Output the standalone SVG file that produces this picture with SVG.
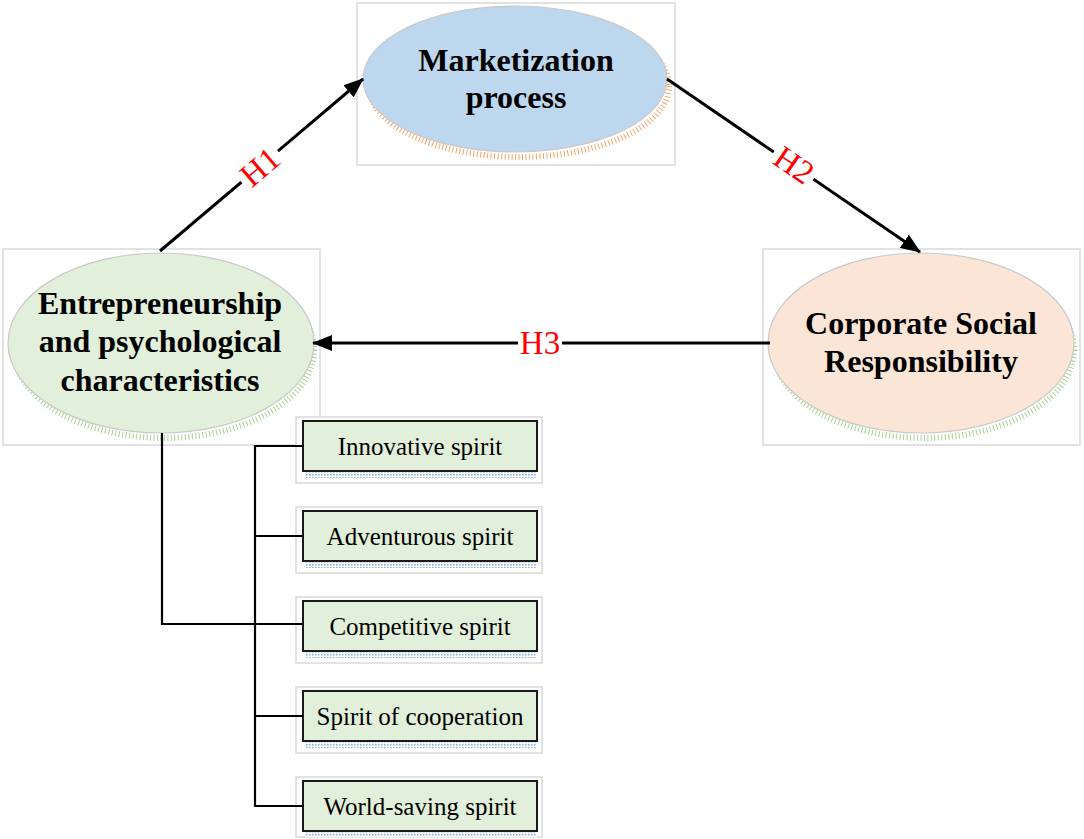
<svg xmlns="http://www.w3.org/2000/svg" width="1084" height="839" viewBox="0 0 1084 839">
<style>
.frame{fill:#fff;stroke:#d9d9d9;stroke-width:1.5}
.ell{stroke:#c9c9c9;stroke-width:1.2}
.big{font-family:"Liberation Serif","Times New Roman",serif;font-weight:bold;font-size:32px;fill:#000;text-anchor:middle}
.small{font-family:"Liberation Serif","Times New Roman",serif;font-size:25px;fill:#000;text-anchor:middle}
.hl{font-family:"Liberation Serif","Times New Roman",serif;font-size:33px;fill:#ff0000;text-anchor:middle}
.box{fill:#e2efda;stroke:#1a1a1a;stroke-width:2}
.conn{fill:none;stroke:#000;stroke-width:2.2}
.arrow{fill:none;stroke:#000;stroke-width:3;marker-end:url(#ah)}
.dotsO{fill:none;stroke:#f4a46a;stroke-width:6;stroke-dasharray:1 2.5}
.dotsG{fill:none;stroke:#a9d18e;stroke-width:6;stroke-dasharray:1 2.5}
</style>
<defs>
<marker id="ah" viewBox="0 0 20 16" refX="19" refY="8" markerWidth="20" markerHeight="16" markerUnits="userSpaceOnUse" orient="auto">
<path d="M0,0 L20,8 L0,16 z" fill="#000"/>
</marker>
<pattern id="bdots" width="3" height="3" patternUnits="userSpaceOnUse">
<rect width="3" height="3" fill="#fff"/>
<rect x="0" y="0" width="1.6" height="1.6" fill="#8db4e2"/>
</pattern>
</defs>
<rect width="1084" height="839" fill="#fff"/>

<g id="marketization">
<rect class="frame" x="357" y="3" width="318" height="162"/>
<ellipse class="dotsO" cx="519" cy="86" rx="150" ry="71"/>
<ellipse class="ell" cx="515" cy="79" rx="152" ry="73" fill="#bdd7ee"/>
<text class="big" x="516" y="71">Marketization</text>
<text class="big" x="516" y="108">process</text>
</g>

<g id="entrepreneurship">
<rect class="frame" x="3" y="249" width="317" height="196"/>
<ellipse class="dotsG" cx="164" cy="350" rx="150" ry="88"/>
<ellipse class="ell" cx="161" cy="343" rx="153" ry="90" fill="#e2efda"/>
<text class="big" x="160" y="314">Entrepreneurship</text>
<text class="big" x="160" y="352">and psychological</text>
<text class="big" x="160" y="391">characteristics</text>
</g>

<g id="csr">
<rect class="frame" x="763" y="249" width="317" height="196"/>
<ellipse class="dotsG" cx="924" cy="350" rx="150" ry="88"/>
<ellipse class="ell" cx="921" cy="343" rx="153" ry="90" fill="#fbe5d6"/>
<text class="big" x="921" y="334">Corporate Social</text>
<text class="big" x="921" y="372">Responsibility</text>
</g>

<g id="innovative">
<rect class="frame" x="296" y="417" width="246" height="66"/>
<rect x="305" y="472" width="232" height="6" fill="url(#bdots)"/>
<rect class="box" x="303" y="421" width="234" height="50"/>
<text class="small" x="420" y="455">Innovative spirit</text>
</g>
<g id="adventurous">
<rect class="frame" x="296" y="507" width="246" height="66"/>
<rect x="305" y="562" width="232" height="6" fill="url(#bdots)"/>
<rect class="box" x="303" y="511" width="234" height="50"/>
<text class="small" x="420" y="545">Adventurous spirit</text>
</g>
<g id="competitive">
<rect class="frame" x="296" y="597" width="246" height="66"/>
<rect x="305" y="652" width="232" height="6" fill="url(#bdots)"/>
<rect class="box" x="303" y="601" width="234" height="50"/>
<text class="small" x="420" y="635">Competitive spirit</text>
</g>
<g id="cooperation">
<rect class="frame" x="296" y="687" width="246" height="66"/>
<rect x="305" y="742" width="232" height="6" fill="url(#bdots)"/>
<rect class="box" x="303" y="691" width="234" height="50"/>
<text class="small" x="420" y="725">Spirit of cooperation</text>
</g>
<g id="worldsaving">
<rect class="frame" x="296" y="777" width="246" height="60"/>
<rect x="305" y="832" width="232" height="5" fill="url(#bdots)"/>
<rect class="box" x="303" y="781" width="234" height="50"/>
<text class="small" x="420" y="815">World-saving spirit</text>
</g>

<g id="connectors">
<line class="arrow" x1="160" y1="251" x2="363" y2="79"/>
<line class="arrow" x1="667" y1="79" x2="920" y2="252"/>
<line class="arrow" x1="770" y1="343" x2="313" y2="343"/>
<polyline class="conn" points="162,433 162,624 303,624"/>
<polyline class="conn" points="303,446 255,446 255,806 303,806"/>
<line class="conn" x1="255" y1="536" x2="303" y2="536"/>
<line class="conn" x1="255" y1="716" x2="303" y2="716"/>
<g transform="translate(260,167) rotate(-40.4)">
<rect x="-24" y="-16" width="48" height="32" fill="#fff"/>
<text class="hl" x="0" y="11">H1</text>
</g>
<g transform="translate(794,165) rotate(34.5)">
<rect x="-24" y="-16" width="48" height="32" fill="#fff"/>
<text class="hl" x="0" y="11">H2</text>
</g>
<g transform="translate(540,343)">
<rect x="-22" y="-16" width="44" height="32" fill="#fff"/>
<text class="hl" x="0" y="11">H3</text>
</g>
</g>
</svg>
